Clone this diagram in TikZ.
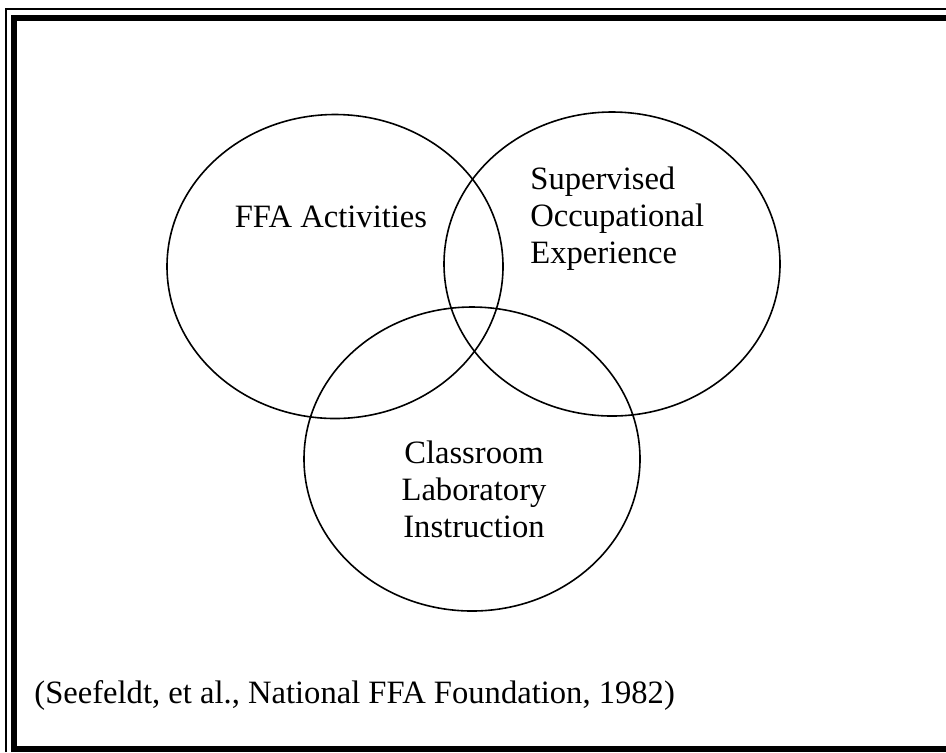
\documentclass[tikz,border=0pt]{standalone}
\usepackage{fontspec}
\setmainfont{Liberation Serif}
\usetikzlibrary{shapes.geometric}

\begin{document}
\begin{tikzpicture}[x=0.5pt,y=-0.5pt,
  ring/.style={draw,ellipse,line width=0.8pt,minimum width=168pt,minimum height=152pt,inner sep=0pt},
  txt/.style={inner sep=0pt,font=\fontsize{16.3}{18.6}\selectfont}]
\useasboundingbox (0,0) rectangle (946,752);
% double frame
\draw [line width=1pt] (6,752) -- (6,9) -- (946,9);
\draw [line width=3pt] (14,752) -- (14,18) -- (946,18);
\draw [line width=3pt] (14,749) -- (946,749);
% the three rings
\node [ring] (ffa) at (335,266.5) {};
\node [ring] (soe) at (612,264) {};
\node [ring] (cli) at (472,459) {};
\node [txt,anchor=base] (ffatext) at (331,227) {FFA Activities};
\node [txt,anchor=west,align=left] (soetext) at (530,218.5) {Supervised\\Occupational\\Experience};
\node [txt,align=center] (clitext) at (474,489.5) {Classroom\\Laboratory\\Instruction};
\node [txt,anchor=base west] (source) at (34,703) {(Seefeldt, et al., National FFA Foundation, 1982)};
\end{tikzpicture}
\end{document}
